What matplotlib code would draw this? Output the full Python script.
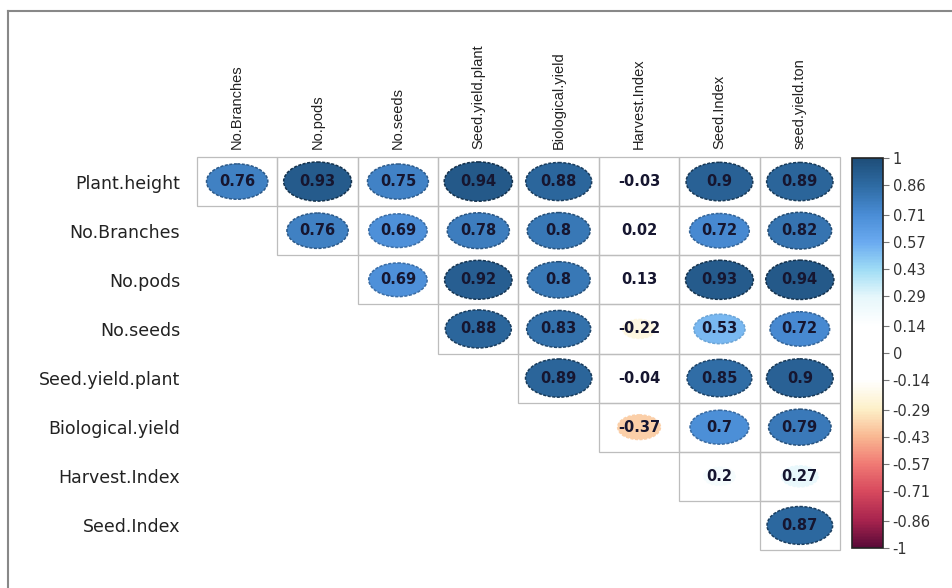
import matplotlib
matplotlib.use("Agg")
import matplotlib.pyplot as plt
import numpy as np
from matplotlib.patches import Ellipse, Rectangle
from matplotlib.colors import LinearSegmentedColormap, Normalize
from matplotlib.lines import Line2D
import matplotlib.cm as cm

# row / column names of the upper triangle (diagonal dropped)
row_names = ['Plant.height', 'No.Branches', 'No.pods', 'No.seeds',
             'Seed.yield.plant', 'Biological.yield', 'Harvest.Index', 'Seed.Index']
col_names = ['No.Branches', 'No.pods', 'No.seeds', 'Seed.yield.plant',
             'Biological.yield', 'Harvest.Index', 'Seed.Index', 'seed.yield.ton']

# correlations, row i holds columns i..7
corr_rows = [
    [0.76, 0.93, 0.75, 0.94, 0.88, -0.03, 0.9, 0.89],
    [0.76, 0.69, 0.78, 0.8, 0.02, 0.72, 0.82],
    [0.69, 0.92, 0.8, 0.13, 0.93, 0.94],
    [0.88, 0.83, -0.22, 0.53, 0.72],
    [0.89, -0.04, 0.85, 0.9],
    [-0.37, 0.7, 0.79],
    [0.2, 0.27],
    [0.87],
]

cbar_ticks = [1, 0.86, 0.71, 0.57, 0.43, 0.29, 0.14, 0,
              -0.14, -0.29, -0.43, -0.57, -0.71, -0.86, -1]

# colour ramp
cmap = LinearSegmentedColormap.from_list('corr', [
    (0.000, '#5a0a38'),
    (0.070, '#a8244e'),
    (0.145, '#d84a5e'),
    (0.215, '#f07a74'),
    (0.285, '#f9b892'),
    (0.355, '#fdf0c8'),
    (0.430, '#ffffff'),
    (0.570, '#ffffff'),
    (0.645, '#e6f7fb'),
    (0.715, '#9fdcf5'),
    (0.785, '#6aaaf0'),
    (0.855, '#4a8dd6'),
    (0.930, '#2e6ba3'),
    (1.000, '#1e4e79'),
])
norm = Normalize(-1, 1)

W, H, DPI = 953, 588, 100
fig = plt.figure(figsize=(W / DPI, H / DPI), dpi=DPI)
fig.patch.set_facecolor('white')

# outer frame (top and left only)
fig.add_artist(Line2D([8 / W, 8 / W], [0, 1 - 11 / H], color='#888888', lw=1.5))
fig.add_artist(Line2D([8 / W, 1], [1 - 11 / H, 1 - 11 / H], color='#888888', lw=1.5))

gx0, gx1, gy0, gy1 = 197, 840, 157, 550
ax = fig.add_axes([gx0 / W, 1 - gy1 / H, (gx1 - gx0) / W, (gy1 - gy0) / H])
n = len(row_names)
ax.set_xlim(0, n)
ax.set_ylim(n, 0)

for i, vals in enumerate(corr_rows):
    for k, v in enumerate(vals):
        j = i + k
        ax.add_patch(Rectangle((j, i), 1, 1, fill=False, ec='#bdbdbd', lw=0.9,
                               zorder=1, clip_on=False))
        s = np.sqrt(abs(v))
        fc = np.array(cmap(norm(v))[:3])
        dark = 1 - 0.5 * max(0.0, (abs(v) - 0.4) / 0.6)
        ax.add_patch(Ellipse((j + 0.5, i + 0.5), 0.875 * s, 0.825 * s,
                             fc=fc, ec=fc * dark, lw=1.1, ls=(0, (2, 1)), zorder=2))
        ax.text(j + 0.5, i + 0.5, f"{v:g}", ha='center', va='center',
                fontsize=10.5, fontweight='bold', color='#161630',
                family='DejaVu Sans', zorder=3)

ax.set_yticks(np.arange(n) + 0.5)
ax.set_yticklabels(row_names, fontsize=12.5, color='#222222', family='DejaVu Sans')
ax.set_xticks(np.arange(n) + 0.5)
ax.xaxis.tick_top()
ax.set_xticklabels(col_names, rotation=90, fontsize=10.5, color='#222222',
                   family='Liberation Sans')
ax.tick_params(axis='y', length=0, pad=12)
ax.tick_params(axis='x', length=0, pad=6)
for sp in ax.spines.values():
    sp.set_visible(False)

# colour legend
cax = fig.add_axes([852 / W, 1 - 548 / H, 31 / W, (548 - 158) / H])
cb = fig.colorbar(cm.ScalarMappable(norm=norm, cmap=cmap), cax=cax)
cb.set_ticks(cbar_ticks)
cb.set_ticklabels([f"{t:g}" for t in cbar_ticks])
cb.outline.set_edgecolor('#222222')
cb.outline.set_linewidth(1.2)
cax.tick_params(length=4, width=0.8, color='#777777', labelsize=10.5,
                labelcolor='#333333', pad=3)
for lab in cax.get_yticklabels():
    lab.set_family('DejaVu Sans')

fig.savefig('out.png', dpi=DPI)
